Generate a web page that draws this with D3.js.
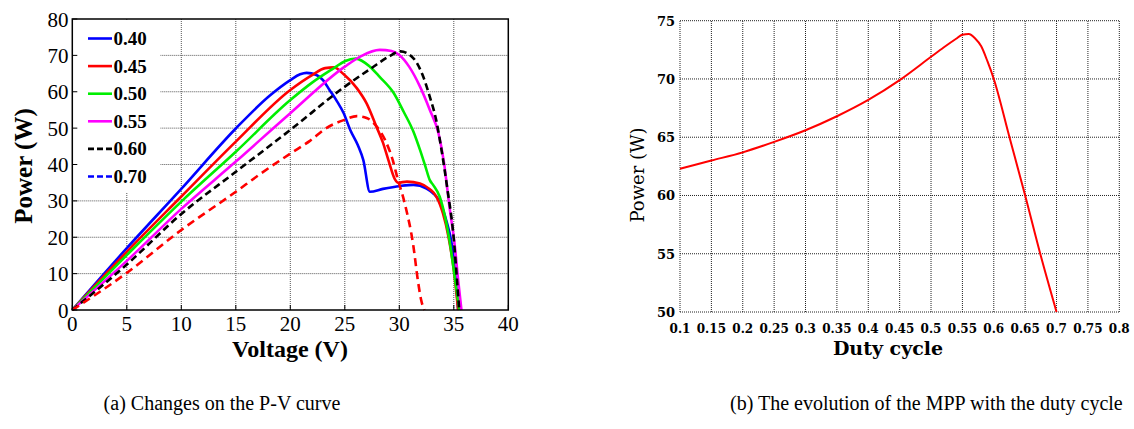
<!DOCTYPE html>
<html><head><meta charset="utf-8">
<script src="https://cdn.jsdelivr.net/npm/d3@7"></script>
<style>body{margin:0;background:#fff}svg{display:block}</style>
</head><body><svg id="c" width="1134" height="429"></svg>
<script>
// ---------- Data: (a) P-V curves for several duty cycles ----------
const seriesNames = ["0.40", "0.45", "0.50", "0.55", "0.60", "0.70"];
const v040 = [0, 5, 10, 15, 18.1, 20, 20.9, 21.5, 22.4, 23.0, 23.6, 24.3, 24.9, 25.5, 26.2, 26.7, 27.3, 28.5, 30.1, 31.3, 32.5, 33.1, 33.7, 34.3, 34.8, 35.1, 35.4];
const p040 = [0, 17, 33.3, 49.9, 58.9, 63.2, 64.8, 65.2, 64.6, 63.2, 60.5, 57.3, 54.1, 49.5, 45.3, 41.2, 32.5, 33.3, 34.1, 34.4, 33.4, 32.1, 29.8, 24.7, 18.3, 11, 0];
const v045 = [0, 5, 10, 15, 20, 22, 23.2, 24.0, 24.9, 26.1, 27.0, 27.9, 28.5, 29.0, 29.6, 29.9, 30.7, 31.9, 32.8, 33.4, 34.0, 34.5, 35.0, 35.4];
const p045 = [0, 16, 31.2, 46.3, 60.5, 64.6, 66.5, 66.7, 64.8, 61, 56.8, 50.4, 46, 41.2, 35.9, 35.0, 35.3, 34.8, 33.2, 31.2, 26.6, 20.3, 11, 0];
const v050 = [0, 5, 10, 15, 20, 22, 24, 25, 26, 27.3, 28.2, 29.5, 30.4, 31.3, 31.9, 32.4, 32.8, 33.1, 33.7, 34.2, 34.6, 35.0, 35.5];
const p050 = [0, 15.1, 29.8, 43.5, 57.7, 62.5, 66.5, 68.4, 69.1, 66.9, 64.1, 59.6, 54.5, 49.0, 44.0, 39.4, 35.7, 34.4, 31.2, 25.6, 19.2, 11, 0];
const v055 = [0, 5, 10, 15, 20, 25, 26.5, 28.2, 29.3, 30, 30.9, 31.9, 32.8, 33.6, 34.1, 34.6, 35.1, 35.4, 35.7];
const p055 = [0, 13.5, 27.8, 40.8, 54.1, 66.9, 69.8, 71.5, 71.2, 70.1, 66.9, 61.4, 55, 48.5, 40.5, 28.4, 17.4, 8.2, 0];
const v060 = [0, 5, 10, 15, 20, 25, 27.5, 29, 30.1, 31.3, 32.2, 32.8, 33.4, 33.9, 34.4, 35.0, 35.3, 35.5];
const p060 = [0, 12.5, 26.4, 38, 49.5, 61.4, 66.6, 69.6, 71.1, 69.2, 64.1, 58.6, 52, 43.5, 33.5, 19.5, 8, 0];
const v070 = [0, 5, 10, 15, 17.2, 20, 21.8, 23.3, 24.9, 26.1, 27.0, 27.8, 28.7, 29.4, 29.8, 30.5, 31.3, 31.7, 32.0, 32.3];
const p070 = [0, 10.2, 22, 32.5, 37.3, 43, 46.5, 50, 52.2, 53.3, 52.8, 50.9, 46.7, 41.2, 36.6, 29.3, 17.4, 8.2, 2.8, 0];
const curveColors = ["#0000ff", "#ff0000", "#00ee00", "#ff00ff", "#000000", "#ff0000"];
const curveDashes = [null, null, null, null, "7,4", "8,5"];
const legendColors = ["#0000ff", "#ff0000", "#00ee00", "#ff00ff", "#000000", "#0000ff"];
const legendDashes = [null, null, null, null, "6,3", "6,3"];
const xTicksA = [0, 5, 10, 15, 20, 25, 30, 35, 40];
const yTicksA = [0, 10, 20, 30, 40, 50, 60, 70, 80];

// ---------- Data: (b) MPP vs duty cycle ----------
const mppDuty = [0.1, 0.15, 0.2, 0.25, 0.3, 0.35, 0.4, 0.45, 0.5, 0.52, 0.54, 0.55, 0.56, 0.57, 0.58, 0.59, 0.6, 0.625, 0.65, 0.675, 0.7];
const mppPower = [62.3, 63.0, 63.7, 64.6, 65.6, 66.8, 68.2, 69.9, 71.9, 72.7, 73.45, 73.8, 73.85, 73.5, 72.8, 71.5, 70.0, 65.0, 60.0, 54.8, 50.0];
const xTicksB = [0.1, 0.15, 0.2, 0.25, 0.3, 0.35, 0.4, 0.45, 0.5, 0.55, 0.6, 0.65, 0.7, 0.75, 0.8];
const xTickLabelsB = ["0.1", "0.15", "0.2", "0.25", "0.3", "0.35", "0.4", "0.45", "0.5", "0.55", "0.6", "0.65", "0.7", "0.75", "0.8"];
const yTicksB = [50, 55, 60, 65, 70, 75];

const captionA = "(a) Changes on the P-V curve";
const captionB = "(b) The evolution of the MPP with the duty cycle";

const svg = d3.select("#c");
svg.append("rect").attr("width", 1134).attr("height", 429).attr("fill", "#fff");

// ================= Chart (a) =================
const xA = d3.scaleLinear().domain([0, 40]).range([72.3, 508.3]);
const yA = d3.scaleLinear().domain([0, 80]).range([310, 19]);
const gA = svg.append("g");
const serif = "'Liberation Serif','Times New Roman',serif";

// grid
gA.selectAll(".gx").data(xTicksA.slice(1, -1)).join("line")
  .attr("x1", d => xA(d)).attr("x2", d => xA(d)).attr("y1", yA(0)).attr("y2", yA(80))
  .attr("stroke", "#555").attr("stroke-width", 1).attr("stroke-dasharray", "1,1");
gA.selectAll(".gy").data(yTicksA.slice(1, -1)).join("line")
  .attr("y1", d => yA(d)).attr("y2", d => yA(d)).attr("x1", xA(0)).attr("x2", xA(40))
  .attr("stroke", "#555").attr("stroke-width", 1).attr("stroke-dasharray", "1,1");

// legend background (hides grid)
gA.append("rect").attr("x", xA(0) + 1).attr("y", yA(80) + 1).attr("width", 87).attr("height", 172).attr("fill", "#fff");

// curves
const vs = [v040, v045, v050, v055, v060, v070];
const ps = [p040, p045, p050, p055, p060, p070];
const lineA = d3.line().x(d => xA(d[0])).y(d => yA(d[1])).curve(d3.curveMonotoneX);
seriesNames.forEach((name, i) => {
  const pts = vs[i].map((v, j) => [v, ps[i][j]]);
  gA.append("path").datum(pts).attr("d", lineA)
    .attr("fill", "none").attr("stroke", curveColors[i]).attr("stroke-width", 2.6)
    .attr("stroke-dasharray", curveDashes[i]);
});

// legend
seriesNames.forEach((name, i) => {
  const yy = 38.5 + i * 27.6;
  gA.append("line").attr("x1", 88).attr("x2", 112).attr("y1", yy).attr("y2", yy)
    .attr("stroke", legendColors[i]).attr("stroke-width", 2.6).attr("stroke-dasharray", legendDashes[i]);
  gA.append("text").attr("x", 113.5).attr("y", yy + 6.5).text(name)
    .attr("font-family", serif).attr("font-weight", "bold").attr("font-size", 19);
});

// frame + ticks
gA.append("rect").attr("x", xA(0)).attr("y", yA(80)).attr("width", xA(40) - xA(0)).attr("height", yA(0) - yA(80))
  .attr("fill", "none").attr("stroke", "#000").attr("stroke-width", 1.5);
gA.selectAll(".tx").data(xTicksA).join("line")
  .attr("x1", d => xA(d)).attr("x2", d => xA(d)).attr("y1", yA(0)).attr("y2", yA(0) - 5).attr("stroke", "#000");
gA.selectAll(".ty").data(yTicksA).join("line")
  .attr("y1", d => yA(d)).attr("y2", d => yA(d)).attr("x1", xA(0)).attr("x2", xA(0) + 5).attr("stroke", "#000");

gA.selectAll(".lx").data(xTicksA).join("text")
  .attr("x", d => xA(d)).attr("y", 331).attr("text-anchor", "middle").text(d => d)
  .attr("font-family", serif).attr("font-size", 21);
gA.selectAll(".ly").data(yTicksA).join("text")
  .attr("x", 68.5).attr("y", d => yA(d) + 7.5).attr("text-anchor", "end").text(d => d)
  .attr("font-family", serif).attr("font-size", 21);

gA.append("text").attr("transform", "translate(32,166) rotate(-90)").attr("text-anchor", "middle")
  .text("Power (W)").attr("font-family", serif).attr("font-weight", "bold").attr("font-size", 25);
gA.append("text").attr("x", 290).attr("y", 357).attr("text-anchor", "middle")
  .text("Voltage (V)").attr("font-family", serif).attr("font-weight", "bold").attr("font-size", 24);

// ================= Chart (b) =================
const xB = d3.scaleLinear().domain([0.1, 0.8]).range([680, 1119.3]);
const yB = d3.scaleLinear().domain([50, 75]).range([312, 20.7]);
const gB = svg.append("g");
const dv = "'DejaVu Serif',serif";

gB.selectAll(".gx").data(xTicksB).join("line")
  .attr("x1", d => xB(d)).attr("x2", d => xB(d)).attr("y1", yB(50)).attr("y2", yB(75))
  .attr("stroke", "#222").attr("stroke-width", 1).attr("stroke-dasharray", "1,1");
gB.selectAll(".gy").data(yTicksB).join("line")
  .attr("y1", d => yB(d)).attr("y2", d => yB(d)).attr("x1", xB(0.1)).attr("x2", xB(0.8))
  .attr("stroke", "#222").attr("stroke-width", 1).attr("stroke-dasharray", "1,1");

const lineB = d3.line().x(d => xB(d[0])).y(d => yB(d[1])).curve(d3.curveMonotoneX);
gB.append("path").datum(mppDuty.map((d, i) => [d, mppPower[i]])).attr("d", lineB)
  .attr("fill", "none").attr("stroke", "#ff0000").attr("stroke-width", 2);

gB.selectAll(".lx").data(xTicksB).join("text")
  .attr("x", d => xB(d)).attr("y", 333).attr("text-anchor", "middle").text((d, i) => xTickLabelsB[i])
  .attr("font-family", dv).attr("font-weight", "bold").attr("font-size", 12);
gB.selectAll(".ly").data(yTicksB).join("text")
  .attr("x", 675).attr("y", d => yB(d) + 5).attr("text-anchor", "end").text(d => d)
  .attr("font-family", dv).attr("font-weight", "bold").attr("font-size", 13);

gB.append("text").attr("transform", "translate(644,175) rotate(-90)").attr("text-anchor", "middle")
  .text("Power (W)").attr("font-family", dv).attr("font-size", 18);
gB.append("text").attr("x", 888).attr("y", 355).attr("text-anchor", "middle")
  .text("Duty cycle").attr("font-family", dv).attr("font-weight", "bold").attr("font-size", 19);

// ================= Captions =================
svg.append("text").attr("x", 222).attr("y", 410).attr("text-anchor", "middle").text(captionA)
  .attr("font-family", serif).attr("font-size", 20);
svg.append("text").attr("x", 730).attr("y", 410).text(captionB)
  .attr("font-family", serif).attr("font-size", 20);
</script>
</body></html>
